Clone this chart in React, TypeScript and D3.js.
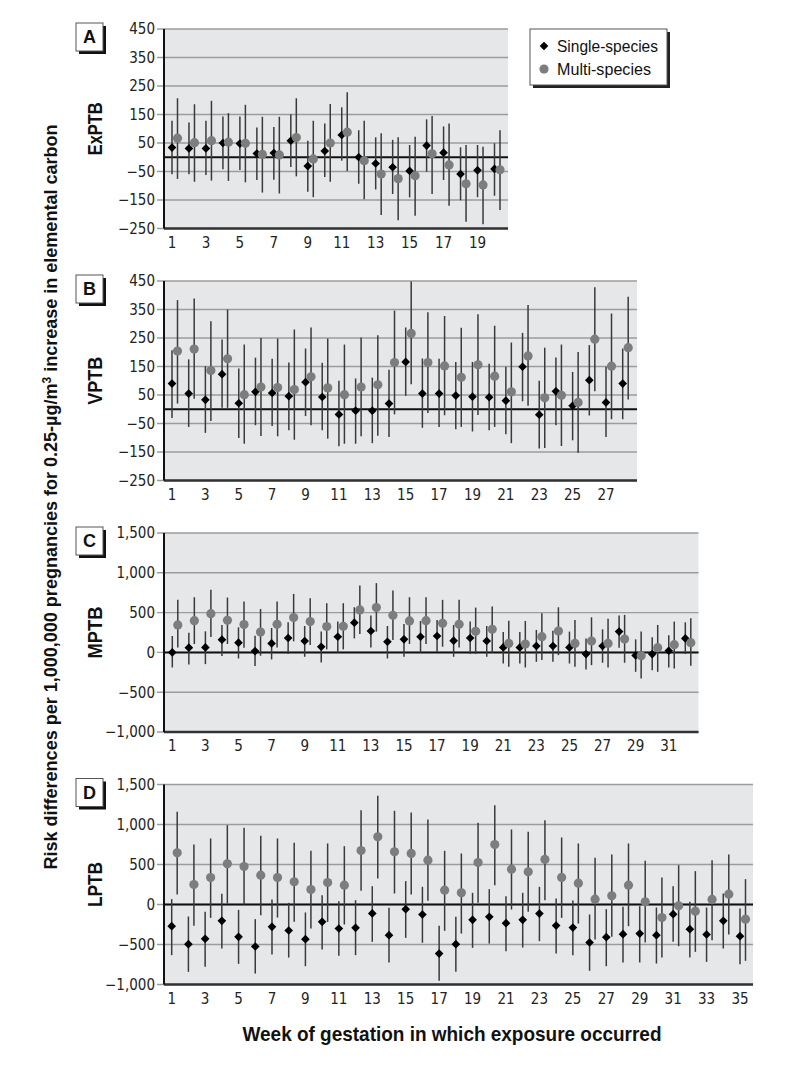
import React from "react";
import * as d3 from "d3";

// ---------- Data (weeks of gestation) ----------
const singleA = [34, 31, 31, 50, 48, 13, 15, 58, -31, 22, 78, 0, -22, -35, -48, 41, 16, -59, -46, -41];
const singleALo = [-60, -60, -62, -42, -45, -80, -79, -34, -121, -69, -12, -93, -113, -129, -141, -51, -80, -151, -140, -135];
const singleAHi = [128, 122, 128, 143, 143, 104, 106, 151, 58, 118, 175, 95, 70, 61, 43, 133, 108, 35, 43, 49];
const multiA = [67, 51, 58, 53, 49, 10, 8, 69, -6, 50, 88, -12, -59, -75, -65, 12, -27, -93, -97, -44];
const multiALo = [-76, -86, -82, -83, -88, -124, -127, -67, -140, -86, -48, -147, -203, -221, -205, -129, -170, -226, -235, -185];
const multiAHi = [207, 186, 198, 155, 184, 142, 142, 207, 128, 187, 228, 128, 84, 70, 72, 145, 118, 43, 37, 95];

const singleB = [90, 55, 33, 123, 21, 61, 57, 46, 95, 43, -18, -5, -5, 20, 166, 55, 55, 48, 44, 42, 30, 149, -19, 63, 12, 102, 24, 90];
const singleBLo = [-31, -62, -83, 5, -101, -56, -59, -74, -24, -74, -130, -121, -119, -97, 47, -65, -62, -70, -78, -74, -88, 28, -138, -56, -109, -22, -97, -35];
const singleBHi = [207, 175, 151, 245, 143, 181, 177, 164, 213, 163, 100, 108, 111, 139, 287, 178, 177, 166, 166, 160, 149, 268, 100, 182, 131, 225, 149, 213];
const multiB = [204, 211, 136, 177, 51, 78, 76, 69, 114, 75, 51, 78, 86, 164, 266, 164, 152, 112, 156, 116, 61, 187, 40, 49, 24, 246, 151, 216];
const multiBLo = [20, 37, -41, 5, -121, -94, -95, -107, -56, -103, -121, -95, -93, -18, 88, -13, -21, -62, -20, -62, -119, 12, -136, -129, -153, 63, -35, 34];
const multiBHi = [383, 389, 309, 350, 227, 250, 248, 280, 287, 248, 227, 252, 260, 346, 448, 340, 327, 286, 333, 293, 234, 366, 216, 227, 201, 428, 336, 395];

const singleC = [0, 59, 63, 160, 122, 17, 113, 181, 143, 71, 197, 374, 269, 134, 164, 197, 206, 147, 181, 143, 63, 63, 80, 80, 63, -21, 80, 261, -38, -21, 21, 176];
const singleCLo = [-189, -151, -147, -46, -76, -172, -88, -21, -55, -126, -4, 176, 63, -76, -55, -4, 8, -55, -21, -55, -139, -139, -118, -118, -139, -214, -130, 59, -244, -223, -189, -21];
const singleCHi = [206, 248, 265, 345, 315, 210, 307, 378, 332, 261, 387, 567, 462, 332, 357, 395, 408, 345, 387, 332, 256, 256, 282, 273, 261, 176, 290, 462, 164, 189, 214, 378];
const multiC = [345, 399, 487, 403, 349, 256, 353, 437, 387, 324, 328, 534, 563, 466, 395, 399, 366, 353, 265, 290, 113, 105, 197, 269, 113, 143, 113, 168, -42, 59, 97, 122];
const multiCLo = [63, 105, 193, 105, 59, -42, 63, 139, 92, 38, 38, 231, 261, 155, 105, 105, 71, 63, -21, -4, -181, -189, -97, -34, -181, -160, -189, -130, -328, -244, -202, -168];
const multiCHi = [660, 693, 786, 689, 639, 546, 639, 735, 681, 618, 618, 840, 870, 777, 693, 693, 660, 660, 563, 576, 399, 395, 492, 567, 408, 441, 424, 471, 261, 345, 387, 429];

const singleD = [-271, -496, -429, -204, -404, -525, -279, -325, -433, -217, -300, -292, -112, -383, -58, -125, -613, -496, -192, -154, -233, -192, -113, -263, -288, -475, -408, -371, -363, -383, -121, -308, -375, -204, -396];
const singleDLo = [-633, -842, -779, -550, -742, -863, -625, -663, -771, -563, -642, -633, -467, -725, -417, -479, -954, -842, -542, -488, -583, -538, -458, -613, -633, -829, -771, -725, -725, -738, -467, -663, -717, -550, -746];
const singleDHi = [67, -150, -92, 133, -67, -183, 62, 21, -100, 117, 42, 54, 229, -42, 292, 221, -267, -154, 146, 192, 104, 146, 221, 75, 50, -125, -58, -29, -21, -38, 229, 33, -38, 137, -50];
const multiD = [646, 250, 337, 508, 475, 367, 337, 283, 187, 275, 242, 675, 846, 658, 638, 554, 179, 146, 525, 750, 442, 408, 563, 338, 267, 67, 108, 242, 33, -163, -17, -83, 63, 129, -183];
const multiDLo = [125, -267, -167, 12, 0, -133, -163, -217, -300, -217, -250, 171, 325, 138, 125, 46, -329, -363, 21, 242, -63, -92, 54, -167, -238, -438, -404, -271, -475, -663, -521, -592, -446, -375, -704];
const multiDHi = [1158, 750, 825, 992, 958, 858, 825, 771, 671, 763, 729, 1179, 1358, 1171, 1150, 1063, 671, 638, 1021, 1242, 938, 908, 1054, 838, 763, 583, 625, 763, 546, 338, 492, 417, 554, 625, 317];

const ticksSmall = [-250, -150, -50, 50, 150, 250, 350, 450];
const ticksLarge = [-1000, -500, 0, 500, 1000, 1500];
const panelLetters = ["A", "B", "C", "D"];
const panelNames = ["ExPTB", "VPTB", "MPTB", "LPTB"];
const panelNameLengths = [53, 48, 52, 45];
const legendLabels = ["Single-species", "Multi-species"];
const legendLengths = [101, 94];
const xTitle = "Week of gestation in which exposure occurred";

// ---------- Styling ----------
const COND = "'DejaVu Sans Condensed', 'Liberation Sans Narrow', sans-serif";
const SANS = "'Liberation Sans', Arial, sans-serif";
const BG = "#e6e7e9";
const GRID = "#9c9c9c";
const BAR = "#3a3a3a";
const MULTI = "#7d7d7d";
const LEFT = 164;

const fmt = (v: number) => {
  const s = d3.format(",")(Math.abs(v));
  return v < 0 ? "\u2212" + s : s;
};

const diamondPath = d3.symbol().type((d3 as any).symbolDiamond2 || d3.symbolDiamond).size(48)() as string;

type PanelProps = {
  top: number;
  bottom: number;
  right: number;
  x0: number;
  x1: number;
  ticks: number[];
  letter: string;
  name: string;
  nameLen: number;
  s: number[]; sLo: number[]; sHi: number[];
  m: number[]; mLo: number[]; mHi: number[];
};

function Panel(p: PanelProps) {
  const n = p.s.length;
  const weeks = d3.range(1, n + 1);
  const x = d3.scaleLinear().domain([1, n]).range([p.x0, p.x1]);
  const y = d3.scaleLinear().domain([p.ticks[0], p.ticks[p.ticks.length - 1]]).range([p.bottom, p.top]);
  const off = 5.5;
  const labelTicks = weeks.filter((w) => w % 2 === 1);
  const cy = (p.top + p.bottom) / 2;
  return (
    <g>
      <rect x={LEFT} y={p.top} width={p.right - LEFT} height={p.bottom - p.top} fill={BG} />
      {p.ticks.map((t) => (
        <g key={t}>
          <line x1={157} x2={p.right} y1={y(t)} y2={y(t)} stroke={GRID} strokeWidth={1.4} />
          <text x={155} y={y(t)} dy="0.36em" textAnchor="end" fontFamily={COND} fontSize={15} fill="#222">
            {fmt(t)}
          </text>
        </g>
      ))}
      <line x1={LEFT} x2={p.right} y1={y(0)} y2={y(0)} stroke="#111" strokeWidth={2} />
      <line x1={LEFT} x2={p.right} y1={p.bottom} y2={p.bottom} stroke="#333" strokeWidth={2.5} />
      <line x1={LEFT} x2={LEFT} y1={p.top} y2={p.bottom} stroke="#111" strokeWidth={2} />
      {labelTicks.map((w) => (
        <text key={w} x={x(w)} y={p.bottom + 19} textAnchor="middle" fontFamily={COND} fontSize={15} fill="#222">
          {w}
        </text>
      ))}
      {weeks.map((w, i) => (
        <line key={"sb" + w} x1={x(w)} x2={x(w)} y1={y(p.sLo[i])} y2={y(p.sHi[i])} stroke={BAR} strokeWidth={1.5} />
      ))}
      {weeks.map((w, i) => (
        <line key={"mb" + w} x1={x(w) + off} x2={x(w) + off} y1={y(p.mLo[i])} y2={y(p.mHi[i])} stroke={BAR} strokeWidth={1.5} />
      ))}
      {weeks.map((w, i) => (
        <path key={"sd" + w} d={diamondPath} transform={`translate(${x(w)},${y(p.s[i])})`} fill="#000" />
      ))}
      {weeks.map((w, i) => (
        <circle key={"mc" + w} cx={x(w) + off} cy={y(p.m[i])} r={4.6} fill={MULTI} />
      ))}
      {/* panel letter box */}
      <rect x={79} y={p.top - 3} width={27} height={28} fill="#111" />
      <rect x={76} y={p.top - 6} width={27} height={28} fill="#fff" stroke="#555" strokeWidth={1} />
      <text x={89.5} y={p.top + 8} dy="0.36em" textAnchor="middle" fontFamily={SANS} fontWeight="bold" fontSize={18} fill="#111">
        {p.letter}
      </text>
      <text transform={`translate(102,${cy}) rotate(-90)`} textAnchor="middle" fontFamily={SANS} fontWeight="bold" fontSize={20}
        textLength={p.nameLen} lengthAdjust="spacingAndGlyphs" fill="#111">
        {p.name}
      </text>
    </g>
  );
}

export default function App() {
  const panels = [
    { top: 29, bottom: 228.5, right: 508, x0: 172, x1: 494.5, ticks: ticksSmall, s: singleA, sLo: singleALo, sHi: singleAHi, m: multiA, mLo: multiALo, mHi: multiAHi },
    { top: 281, bottom: 480.5, right: 637, x0: 172, x1: 622.7, ticks: ticksSmall, s: singleB, sLo: singleBLo, sHi: singleBHi, m: multiB, mLo: multiBLo, mHi: multiBHi },
    { top: 533, bottom: 732, right: 698.5, x0: 172.3, x1: 685.3, ticks: ticksLarge, s: singleC, sLo: singleCLo, sHi: singleCHi, m: multiC, mLo: multiCLo, mHi: multiCHi },
    { top: 784.5, bottom: 984.5, right: 753, x0: 171.7, x1: 740, ticks: ticksLarge, s: singleD, sLo: singleDLo, sHi: singleDHi, m: multiD, mLo: multiDLo, mHi: multiDHi },
  ];
  return (
    <svg width={800} height={1075} style={{ position: "absolute", left: 0, top: 0, background: "#fff" }}>
      <rect width={800} height={1075} fill="#fff" />
      {panels.map((p, i) => (
        <Panel key={i} {...p} letter={panelLetters[i]} name={panelNames[i]} nameLen={panelNameLengths[i]} />
      ))}
      {/* legend */}
      <rect x={533} y={32} width={137} height={56} fill="#222" />
      <rect x={530} y={29} width={137} height={56} fill="#fff" stroke="#555" strokeWidth={1} />
      <path d={diamondPath} transform="translate(544,46)" fill="#000" />
      <text x={557} y={52} fontFamily={SANS} fontSize={17} textLength={legendLengths[0]} lengthAdjust="spacingAndGlyphs" fill="#111">
        {legendLabels[0]}
      </text>
      <circle cx={544} cy={69} r={4.6} fill={MULTI} />
      <text x={557} y={75} fontFamily={SANS} fontSize={17} textLength={legendLengths[1]} lengthAdjust="spacingAndGlyphs" fill="#111">
        {legendLabels[1]}
      </text>
      {/* axis titles */}
      <text transform="translate(57,497) rotate(-90)" textAnchor="middle" fontFamily={SANS} fontWeight="bold" fontSize={18}
        textLength={745} lengthAdjust="spacingAndGlyphs" fill="#111">
        Risk differences per 1,000,000 pregnancies for 0.25-µg/m
        <tspan dy={-6} fontSize={12}>3</tspan>
        <tspan dy={6}> increase in elemental carbon</tspan>
      </text>
      <text x={452} y={1041} textAnchor="middle" fontFamily={SANS} fontWeight="bold" fontSize={21}
        textLength={419} lengthAdjust="spacingAndGlyphs" fill="#111">
        {xTitle}
      </text>
    </svg>
  );
}
